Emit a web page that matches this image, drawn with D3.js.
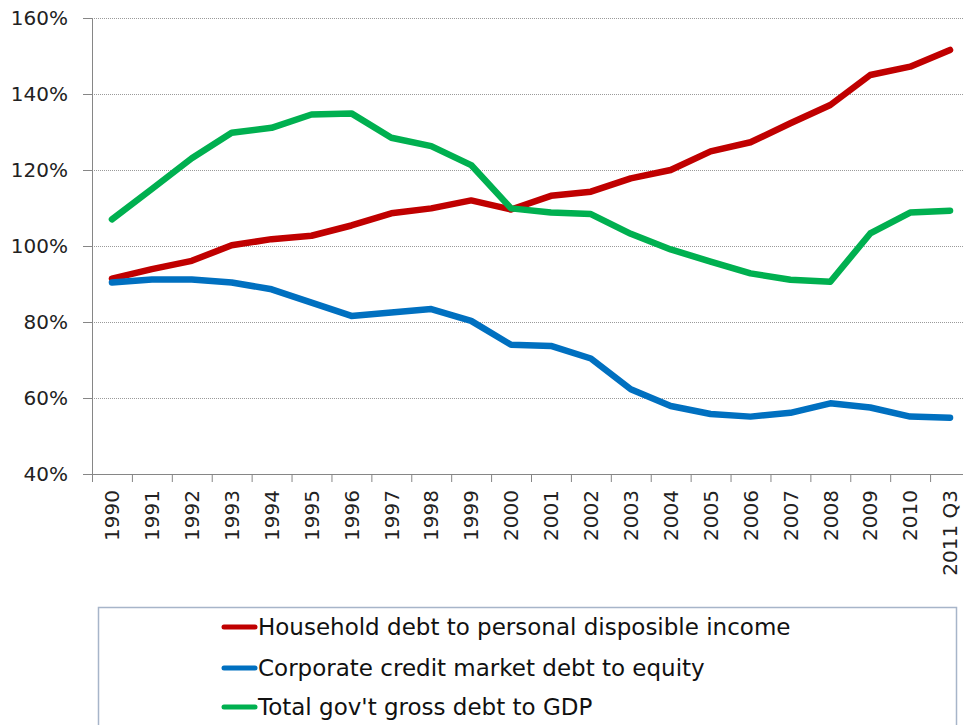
<!DOCTYPE html>
<html>
<head>
<meta charset="utf-8">
<script src="https://cdn.jsdelivr.net/npm/d3@7"></script>
<style>
  body { margin: 0; background: #fff; }
  svg { display: block; }
</style>
</head>
<body>
<script>
// categories and series
var years = ["1990", "1991", "1992", "1993", "1994", "1995", "1996", "1997", "1998", "1999", "2000",
             "2001", "2002", "2003", "2004", "2005", "2006", "2007", "2008", "2009", "2010", "2011 Q3"];
var household = [91.4, 93.9, 96.1, 100.2, 101.8, 102.7, 105.4, 108.6, 109.9, 112.0, 109.6,
                 113.2, 114.3, 117.8, 120.0, 124.9, 127.3, 132.3, 137.1, 145.0, 147.2, 151.6];
var corporate = [90.4, 91.2, 91.2, 90.4, 88.6, 85.1, 81.6, 82.5, 83.4, 80.3, 74.0,
                 73.7, 70.4, 62.3, 57.9, 55.8, 55.1, 56.1, 58.6, 57.5, 55.1, 54.8];
var govt = [107.0, 115.0, 123.1, 129.8, 131.1, 134.6, 134.9, 128.5, 126.3, 121.3, 109.9,
            108.8, 108.4, 103.2, 99.1, 95.9, 92.8, 91.1, 90.6, 103.3, 108.8, 109.3];
var yTicks = [40, 60, 80, 100, 120, 140, 160];
var seriesNames = ["Household debt to personal disposible income",
                   "Corporate credit market debt to equity",
                   "Total gov't gross debt to GDP"];
var seriesColors = ["#c00000", "#0070c0", "#00b050"];

var W = 963, H = 725;
var plot = { left: 92, right: 970, top: 18, bottom: 474 };
var font = "'DejaVu Sans', sans-serif";

var svg = d3.select("body").append("svg")
  .attr("width", W).attr("height", H);

var x = d3.scaleBand().domain(years).range([plot.left, plot.right]).padding(0);
var y = d3.scaleLinear().domain([40, 160]).range([plot.bottom, plot.top]);

// dotted gridlines
svg.append("g").selectAll("line")
  .data(yTicks.filter(function(d) { return d > 40; }))
  .enter().append("line")
  .attr("x1", plot.left).attr("x2", plot.right)
  .attr("y1", function(d) { return y(d) + 0.5; })
  .attr("y2", function(d) { return y(d) + 0.5; })
  .attr("stroke", "#9a9a9a")
  .attr("stroke-width", 1)
  .attr("stroke-dasharray", "1,1");

// y axis
var yAxis = svg.append("g")
  .attr("transform", "translate(" + plot.left + ",0)")
  .call(d3.axisLeft(y).tickValues(yTicks).tickFormat(function(d) { return d + "%"; })
        .tickSize(9).tickSizeOuter(0).tickPadding(15));
yAxis.select(".domain").attr("stroke", "#868686");
yAxis.selectAll(".tick line").attr("stroke", "#868686");
yAxis.selectAll(".tick text")
  .attr("font-family", font).attr("font-size", 20).attr("fill", "#222");

// x axis: tick marks between categories, labels at centres
var xEdge = d3.scaleLinear().domain([0, years.length]).range([plot.left, plot.right]);
var xTicks = svg.append("g")
  .attr("transform", "translate(0," + plot.bottom + ")")
  .call(d3.axisBottom(xEdge).tickValues(d3.range(0, years.length + 1)).tickFormat("")
        .tickSize(8).tickSizeOuter(0));
xTicks.select(".domain").attr("stroke", "#868686");
xTicks.selectAll(".tick line").attr("stroke", "#868686");

svg.append("g").selectAll("text")
  .data(years)
  .enter().append("text")
  .attr("transform", function(d) {
    return "translate(" + (x(d) + x.bandwidth() / 2) + ",490) rotate(-90)";
  })
  .attr("text-anchor", "end")
  .attr("dy", "0.36em")
  .attr("font-family", font).attr("font-size", 20).attr("fill", "#222")
  .text(function(d) { return d; });

// lines
var line = d3.line()
  .x(function(d, i) { return x(years[i]) + x.bandwidth() / 2; })
  .y(function(d) { return y(d); });

[household, corporate, govt].forEach(function(vals, k) {
  svg.append("path")
    .datum(vals)
    .attr("d", line)
    .attr("fill", "none")
    .attr("stroke", seriesColors[k])
    .attr("stroke-width", 6.5)
    .attr("stroke-linejoin", "round")
    .attr("stroke-linecap", "round");
});

// legend
svg.append("rect")
  .attr("x", 98.5).attr("y", 607.5).attr("width", 858).attr("height", 140)
  .attr("fill", "#fff").attr("stroke", "#a7b5c9").attr("stroke-width", 1.5);

var legendY = [627, 668, 707];
seriesNames.forEach(function(name, k) {
  svg.append("line")
    .attr("x1", 224).attr("x2", 255)
    .attr("y1", legendY[k]).attr("y2", legendY[k])
    .attr("stroke", seriesColors[k]).attr("stroke-width", 5)
    .attr("stroke-linecap", "round");
  svg.append("text")
    .attr("x", 258).attr("y", legendY[k]).attr("dy", "0.36em")
    .attr("font-family", font).attr("font-size", 23).attr("fill", "#111")
    .text(name);
});
</script>
</body>
</html>
